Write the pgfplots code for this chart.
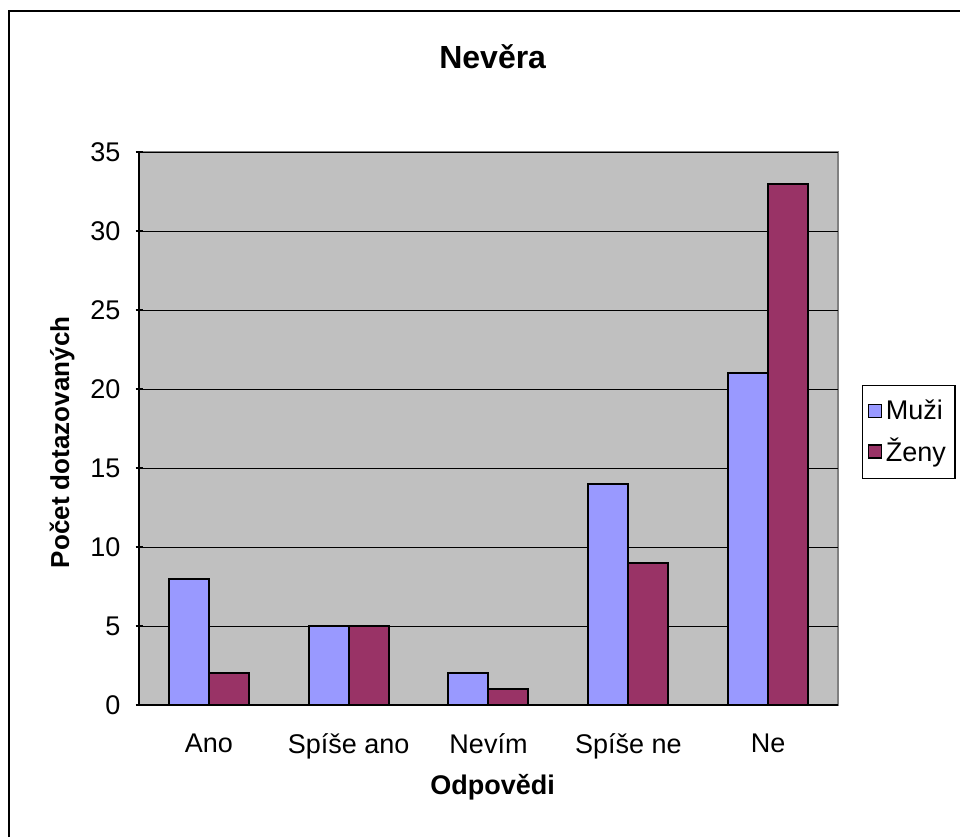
\documentclass[border=0pt]{standalone}
\usepackage{fontspec}
\setmainfont{Liberation Sans}
\usepackage{pgfplots}
\pgfplotsset{compat=1.18}

\definecolor{muzi}{HTML}{9999FF}
\definecolor{zeny}{HTML}{993366}
\definecolor{plotbg}{HTML}{C0C0C0}

\begin{document}
\begin{tikzpicture}
% picture is 960x837 px at 0.5pt per px
\useasboundingbox (0,0) rectangle (480pt,418.5pt);
\draw[line width=0.6pt] (4.5pt,0) -- (4.5pt,413pt) -- (480pt,413pt);
\begin{axis}[
    at={(69.5pt,66pt)}, anchor=south west,
    scale only axis,
    width=349.5pt, height=276.5pt,
    ybar=0pt, bar width=20pt,
    xmin=-0.5, xmax=4.5,
    ymin=0, ymax=35,
    ytick={0,5,...,35},
    xtick={0,1,2,3,4},
    xticklabels={Ano, Spíše ano, Nevím, Spíše ne, Ne},
    x tick style={draw=none},
    extra x ticks={-0.5,0.5,1.5,2.5,3.5,4.5},
    extra x tick labels={},
    extra x tick style={grid=none, major tick length=4pt, tick style={draw=black, line width=0.6pt}},
    tick align=outside,
    y tick style={draw=black, line width=0.6pt},
    major tick length=3.5pt,
    axis lines=left,
    axis line style={-, black, line width=0.7pt},
    axis background/.style={fill=plotbg, draw=gray, line width=0.6pt},
    ymajorgrids=true,
    grid style={black, line width=0.5pt},
    /pgf/number format/assume math mode=true,
    ticklabel style={font=\fontsize{13.5}{16}\selectfont},
    xticklabel style={yshift=-9pt},
    yticklabel style={xshift=-4pt},
    title={Nevěra},
    title style={at={(axis description cs:0.506,1.15)}, anchor=center, font=\bfseries\fontsize{16}{19}\selectfont},
    xlabel={Odpovědi},
    ylabel={Počet dotazovaných},
    every axis x label/.style={at={(axis description cs:0.506,-0.148)}, anchor=center, font=\bfseries\fontsize{13.5}{16}\selectfont},
    every axis y label/.style={at={(axis description cs:-0.110,0.475)}, anchor=center, rotate=90, font=\bfseries\fontsize{13}{16}\selectfont},
    legend style={at={(axis description cs:1.0343,0.5787)}, anchor=north west,
        draw=black, fill=white, line width=0.6pt,
        font=\fontsize{13.5}{16}\selectfont,
        row sep=4pt, inner xsep=2.5pt, inner ysep=5pt},
    legend cell align=left,
]
\addplot[fill=muzi, draw=black, line width=1pt,
    legend image code/.code={\draw[fill=muzi, draw=black, line width=0.7pt] (0pt,-3.25pt) rectangle (6.5pt,3.25pt);}]
coordinates {(0,8) (1,5) (2,2) (3,14) (4,21)};
\addplot[fill=zeny, draw=black, line width=1pt,
    legend image code/.code={\draw[fill=zeny, draw=black, line width=0.7pt] (0pt,-3.25pt) rectangle (6.5pt,3.25pt);}]
coordinates {(0,2) (1,5) (2,1) (3,9) (4,33)};
\legend{Muži, Ženy}
\end{axis}
\end{tikzpicture}
\end{document}
